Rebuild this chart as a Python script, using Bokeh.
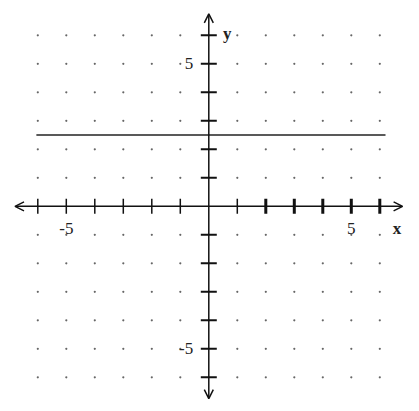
import numpy as np
from bokeh.plotting import figure
from bokeh.models import Arrow, OpenHead, Range1d
from bokeh.core.properties import value
from bokeh.embed import file_html
from bokeh.resources import INLINE

# grid / axis data
grid_vals = [-6, -5, -4, -3, -2, -1, 1, 2, 3, 4, 5, 6]
x_ticks = [-6, -5, -4, -3, -2, -1, 1, 2, 3, 4, 5, 6]
y_ticks = [-6, -5, -4, -3, -2, -1, 1, 2, 3, 4, 5, 6]
x_tick_labels = ["-5", "5"]
x_tick_label_pos = [-5, 5]
y_tick_labels = ["5", "-5"]
y_tick_label_pos = [5, -5]
x_axis_extent = [-6.8, 6.8]
y_axis_extent = [-6.75, 6.75]
# the graphed line y = 2.5
line_x = [-6.05, 6.2]
line_y = [2.5, 2.5]

unit = 28.5
W, H = 415, 405
ox, oy = 208.3, 205.8  # origin in canvas pixels
xs, xe = -ox / unit, (W - ox) / unit
ye, ys = oy / unit, -(H - oy) / unit

p = figure(width=W, height=H, x_range=Range1d(xs, xe), y_range=Range1d(ys, ye),
           output_backend="svg", toolbar_location=None, min_border=0)
p.axis.visible = False
p.grid.visible = False
p.outline_line_color = None
p.background_fill_color = "white"

# dot grid
gx, gy = np.meshgrid(grid_vals, grid_vals)
p.scatter(gx.ravel(), gy.ravel(), size=2.2, color="#666666", line_color=None)

# axes with arrow heads
p.add_layout(Arrow(end=OpenHead(size=9, line_width=1.5, line_color="#111111"),
                   start=OpenHead(size=9, line_width=1.5, line_color="#111111"),
                   x_start=x_axis_extent[0], y_start=0, x_end=x_axis_extent[1], y_end=0,
                   line_width=1.5, line_color="#111111"))
p.add_layout(Arrow(end=OpenHead(size=9, line_width=1.5, line_color="#111111"),
                   start=OpenHead(size=9, line_width=1.5, line_color="#111111"),
                   x_start=0, y_start=y_axis_extent[0], x_end=0, y_end=y_axis_extent[1],
                   line_width=1.5, line_color="#111111"))

# tick marks
xt_thin = [t for t in x_ticks if t < 2]
xt_bold = [t for t in x_ticks if t >= 2]
p.scatter(xt_thin, [0] * len(xt_thin), marker="dash", size=15, angle=np.pi / 2,
          line_color="#111111", line_width=1.5)
p.scatter(xt_bold, [0] * len(xt_bold), marker="dash", size=15, angle=np.pi / 2,
          line_color="#111111", line_width=3)
p.scatter([0] * len(y_ticks), y_ticks, marker="dash", size=16,
          line_color="#111111", line_width=2)

# graphed line
p.line(line_x, line_y, line_color="#222222", line_width=1.6)

font = value("Liberation Serif")
p.text(x_tick_label_pos, [-0.78] * 2, text=x_tick_labels, text_font=font,
       text_font_size="17px", text_align="center", text_baseline="middle",
       text_color="#222222")
p.text([-0.55] * 2, y_tick_label_pos, text=y_tick_labels, text_font=font,
       text_font_size="17px", text_align="right", text_baseline="middle",
       text_color="#222222")
p.text([6.6], [-0.78], text=["x"], text_font=font, text_font_size="17px",
       text_font_style="bold", text_align="center", text_baseline="middle",
       text_color="#222222")
p.text([0.65], [6.05], text=["y"], text_font=font, text_font_size="17px",
       text_font_style="bold", text_align="center", text_baseline="middle",
       text_color="#222222")

open("out.html", "w").write(file_html(p, INLINE))
